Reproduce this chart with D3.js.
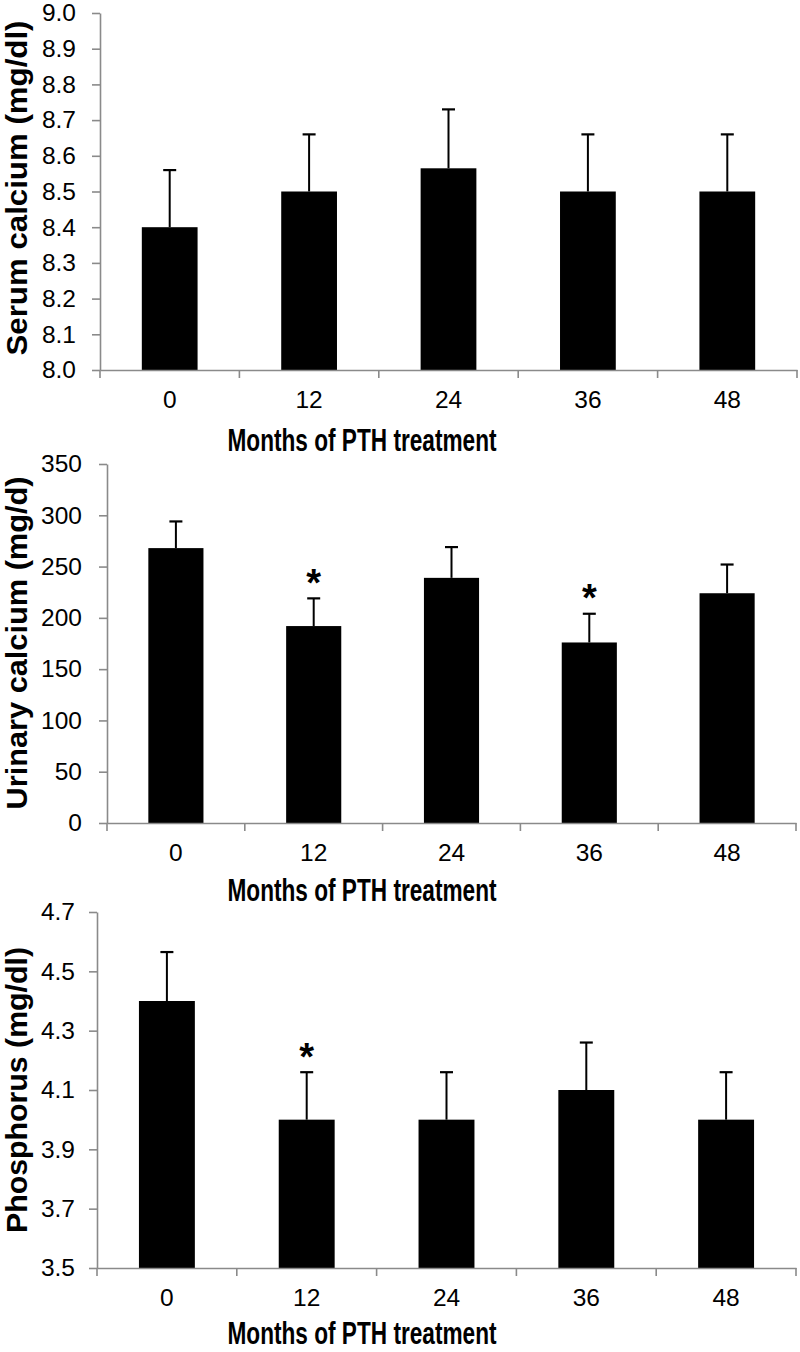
<!DOCTYPE html>
<html>
<head>
<meta charset="utf-8">
<script src="https://cdn.jsdelivr.net/npm/d3@7"></script>
<style>
  html, body { margin: 0; padding: 0; background: #fff; }
  svg { display: block; }
  text { font-family: "Liberation Sans", Arial, sans-serif; fill: #000; }
</style>
</head>
<body>
<svg id="chart" width="800" height="1352"></svg>
<script>
// ---- Data ----
const months = ["0", "12", "24", "36", "48"];

const serumMean = [8.40, 8.50, 8.565, 8.50, 8.50];
const serumSE   = [0.16, 0.16, 0.165, 0.16, 0.16];
const serumTicks = [8.0, 8.1, 8.2, 8.3, 8.4, 8.5, 8.6, 8.7, 8.8, 8.9, 9.0];
const serumSig = [];

const urinaryMean = [268, 192, 239, 176, 224];
const urinarySE   = [26, 27, 30, 28, 28];
const urinaryTicks = [0, 50, 100, 150, 200, 250, 300, 350];
const urinarySig = ["12", "36"];

const phosMean = [4.40, 4.00, 4.00, 4.10, 4.00];
const phosSE   = [0.165, 0.16, 0.16, 0.16, 0.16];
const phosTicks = [3.5, 3.7, 3.9, 4.1, 4.3, 4.5, 4.7];
const phosSig = ["12"];

const xTitle = "Months of PTH treatment";

// ---- Layout ----
const panels = [
  { mean: serumMean, se: serumSE, ticks: serumTicks, sig: serumSig, fmt: d3.format(".1f"),
    yTitle: "Serum calcium (mg/dl)", left: 100, right: 797, top: 13, bottom: 370,
    yTitleCY: 188, yTitleLen: 335, titleOff: 81, labelPad: 16 },
  { mean: urinaryMean, se: urinarySE, ticks: urinaryTicks, sig: urinarySig, fmt: d3.format("d"),
    yTitle: "Urinary calcium (mg/d)", left: 107, right: 796, top: 464, bottom: 823,
    yTitleCY: 643, yTitleLen: 333, titleOff: 78, labelPad: 17 },
  { mean: phosMean, se: phosSE, ticks: phosTicks, sig: phosSig, fmt: d3.format(".1f"),
    yTitle: "Phosphorus (mg/dl)", left: 97, right: 796, top: 912, bottom: 1268,
    yTitleCY: 1090, yTitleLen: 286, titleOff: 76, labelPad: 14 }
];

const svg = d3.select("#chart");
const axisColor = "#8a8a8a";

panels.forEach(p => {
  const g = svg.append("g");
  const x = d3.scaleBand().domain(months).range([p.left, p.right])
    .paddingInner(0.6).paddingOuter(0.3);
  const y = d3.scaleLinear().domain([p.ticks[0], p.ticks[p.ticks.length - 1]])
    .range([p.bottom, p.top]);
  const step = x.step();
  const gap = (step - x.bandwidth()) / 2;

  // bars
  g.selectAll("rect.bar").data(months).join("rect")
    .attr("x", d => x(d)).attr("width", x.bandwidth())
    .attr("y", (d, i) => y(p.mean[i]))
    .attr("height", (d, i) => y(p.ticks[0]) - y(p.mean[i]))
    .attr("fill", "#000");

  // error bars (upper only)
  const capW = 13;
  months.forEach((d, i) => {
    const cx = x(d) + x.bandwidth() / 2;
    const yt = y(p.mean[i] + p.se[i]);
    g.append("line").attr("x1", cx).attr("x2", cx)
      .attr("y1", y(p.mean[i])).attr("y2", yt)
      .attr("stroke", "#000").attr("stroke-width", 2);
    g.append("line").attr("x1", cx - capW / 2).attr("x2", cx + capW / 2)
      .attr("y1", yt).attr("y2", yt)
      .attr("stroke", "#000").attr("stroke-width", 2.2);
  });

  // significance asterisks
  const starFs = 38;
  p.sig.forEach(d => {
    const i = months.indexOf(d);
    const cx = x(d) + x.bandwidth() / 2;
    const yt = y(p.mean[i] + p.se[i]);
    g.append("text").attr("x", cx).attr("y", yt - 24 + 0.57 * starFs)
      .attr("text-anchor", "middle").attr("font-size", starFs).attr("font-weight", "bold")
      .text("*");
  });

  // y axis
  const yAxis = g.append("g").attr("transform", `translate(${p.left},0)`)
    .call(d3.axisLeft(y).tickValues(p.ticks).tickFormat(p.fmt)
      .tickSize(8).tickSizeOuter(0).tickPadding(p.labelPad));
  yAxis.select(".domain").attr("stroke", axisColor).attr("stroke-width", 1.6);
  yAxis.selectAll(".tick line").attr("stroke", axisColor).attr("stroke-width", 1.6);
  yAxis.selectAll(".tick text").attr("font-size", 24.5).attr("fill", "#111")
    .style("font-family", '"Liberation Sans", Arial, sans-serif');

  // x axis: line, boundary ticks, labels
  const xAxis = g.append("g").attr("transform", `translate(0,${p.bottom})`)
    .call(d3.axisBottom(x).tickSize(0).tickSizeOuter(0).tickPadding(21));
  xAxis.select(".domain").attr("stroke", axisColor).attr("stroke-width", 1.6);
  xAxis.selectAll(".tick text").attr("font-size", 24.5).attr("fill", "#111")
    .style("font-family", '"Liberation Sans", Arial, sans-serif');
  const bounds = months.map(d => x(d) - gap).concat([x(months[months.length - 1]) + x.bandwidth() + gap]);
  xAxis.selectAll("line.bound").data(bounds).join("line").attr("class", "bound")
    .attr("x1", d => d).attr("x2", d => d).attr("y1", 0).attr("y2", 8)
    .attr("stroke", axisColor).attr("stroke-width", 1.6);

  // x title
  g.append("text").attr("x", 362).attr("y", p.bottom + p.titleOff)
    .attr("text-anchor", "middle").attr("font-size", 31).attr("font-weight", "bold")
    .attr("textLength", 269).attr("lengthAdjust", "spacingAndGlyphs")
    .text(xTitle);

  // y title
  g.append("text").attr("transform", `translate(27,${p.yTitleCY}) rotate(-90)`)
    .attr("text-anchor", "middle").attr("font-size", 30).attr("font-weight", "bold")
    .attr("textLength", p.yTitleLen).attr("lengthAdjust", "spacingAndGlyphs")
    .text(p.yTitle);
});
</script>
</body>
</html>
